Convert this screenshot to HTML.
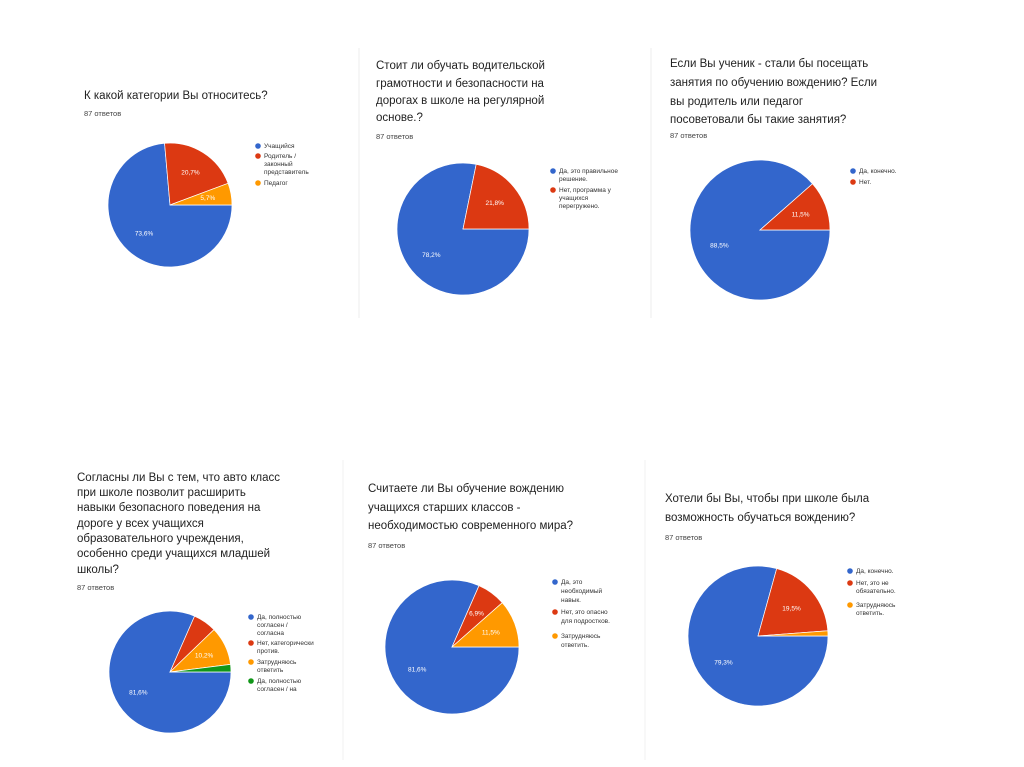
<!DOCTYPE html>
<html><head><meta charset="utf-8"><style>
html,body{margin:0;padding:0;background:#fff;}
svg{display:block;font-family:"Liberation Sans","DejaVu Sans",sans-serif;}
.t{font-size:11.5px;fill:#222;}
.n{font-size:7.5px;fill:#444;}
.l{font-size:6.5px;fill:#333;}
.p{font-size:6.5px;fill:#fff;}
</style></head><body>
<svg id="s" width="1024" height="767" viewBox="0 0 1024 767">
<line x1="359" y1="48" x2="359" y2="318" stroke="#eee"/>
<line x1="651" y1="48" x2="651" y2="318" stroke="#eee"/>
<line x1="343" y1="460" x2="343" y2="760" stroke="#f0f0f0"/>
<line x1="645" y1="460" x2="645" y2="760" stroke="#f0f0f0"/>
<g id="g"></g>
<!-- P1 -->
<text class="t" x="84" y="99">К какой категории Вы относитесь?</text>
<text class="n" x="84" y="116">87 ответов</text>
<circle cx="258" cy="146" r="2.8" fill="#3366cc"/><text class="l" x="264" y="148">Учащийся</text>
<circle cx="258" cy="156" r="2.8" fill="#dc3912"/><text class="l" x="264" y="158">Родитель /</text><text class="l" x="264" y="166">законный</text><text class="l" x="264" y="174">представитель</text>
<circle cx="258" cy="183" r="2.8" fill="#ff9900"/><text class="l" x="264" y="185">Педагог</text>
<!-- P2 -->
<text class="t" x="376" y="69">Стоит ли обучать водительской</text>
<text class="t" x="376" y="87">грамотности и безопасности на</text>
<text class="t" x="376" y="104">дорогах в школе на регулярной</text>
<text class="t" x="376" y="121">основе.?</text>
<text class="n" x="376" y="139">87 ответов</text>
<circle cx="553" cy="171" r="2.8" fill="#3366cc"/><text class="l" x="559" y="173">Да, это правильное</text><text class="l" x="559" y="181">решение.</text>
<circle cx="553" cy="190" r="2.8" fill="#dc3912"/><text class="l" x="559" y="192">Нет, программа у</text><text class="l" x="559" y="200">учащихся</text><text class="l" x="559" y="208">перегружено.</text>
<!-- P3 -->
<text class="t" x="670" y="67">Если Вы ученик - стали бы посещать</text>
<text class="t" x="670" y="86">занятия по обучению вождению? Если</text>
<text class="t" x="670" y="105">вы родитель или педагог</text>
<text class="t" x="670" y="123">посоветовали бы такие занятия?</text>
<text class="n" x="670" y="138">87 ответов</text>
<circle cx="853" cy="171" r="2.8" fill="#3366cc"/><text class="l" x="859" y="173">Да, конечно.</text>
<circle cx="853" cy="182" r="2.8" fill="#dc3912"/><text class="l" x="859" y="184">Нет.</text>
<!-- P4 -->
<text class="t" x="77" y="481">Согласны ли Вы с тем, что авто класс</text>
<text class="t" x="77" y="496">при школе позволит расширить</text>
<text class="t" x="77" y="511">навыки безопасного поведения на</text>
<text class="t" x="77" y="527">дороге у всех учащихся</text>
<text class="t" x="77" y="542">образовательного учреждения,</text>
<text class="t" x="77" y="557">особенно среди учащихся младшей</text>
<text class="t" x="77" y="573">школы?</text>
<text class="n" x="77" y="590">87 ответов</text>
<circle cx="251" cy="617" r="2.8" fill="#3366cc"/><text class="l" x="257" y="619">Да, полностью</text><text class="l" x="257" y="627">согласен /</text><text class="l" x="257" y="635">согласна</text>
<circle cx="251" cy="643" r="2.8" fill="#dc3912"/><text class="l" x="257" y="645">Нет, категорически</text><text class="l" x="257" y="653">против.</text>
<circle cx="251" cy="662" r="2.8" fill="#ff9900"/><text class="l" x="257" y="664">Затрудняюсь</text><text class="l" x="257" y="672">ответить</text>
<circle cx="251" cy="681" r="2.8" fill="#109618"/><text class="l" x="257" y="683">Да, полностью</text><text class="l" x="257" y="691">согласен / на</text>
<!-- P5 -->
<text class="t" x="368" y="492">Считаете ли Вы обучение вождению</text>
<text class="t" x="368" y="511">учащихся старших классов -</text>
<text class="t" x="368" y="529">необходимостью современного мира?</text>
<text class="n" x="368" y="548">87 ответов</text>
<circle cx="555" cy="582" r="2.8" fill="#3366cc"/><text class="l" x="561" y="584">Да, это</text><text class="l" x="561" y="593">необходимый</text><text class="l" x="561" y="602">навык.</text>
<circle cx="555" cy="612" r="2.8" fill="#dc3912"/><text class="l" x="561" y="614">Нет, это опасно</text><text class="l" x="561" y="623">для подростков.</text>
<circle cx="555" cy="636" r="2.8" fill="#ff9900"/><text class="l" x="561" y="638">Затрудняюсь</text><text class="l" x="561" y="647">ответить.</text>
<!-- P6 -->
<text class="t" x="665" y="502">Хотели бы Вы, чтобы при школе была</text>
<text class="t" x="665" y="521">возможность обучаться вождению?</text>
<text class="n" x="665" y="540">87 ответов</text>
<circle cx="850" cy="571" r="2.8" fill="#3366cc"/><text class="l" x="856" y="573">Да, конечно.</text>
<circle cx="850" cy="583" r="2.8" fill="#dc3912"/><text class="l" x="856" y="585">Нет, это не</text><text class="l" x="856" y="593">обязательно.</text>
<circle cx="850" cy="605" r="2.8" fill="#ff9900"/><text class="l" x="856" y="607">Затрудняюсь</text><text class="l" x="856" y="615">ответить.</text>
</svg>
<script>
var C=["#3366cc","#dc3912","#ff9900","#109618"];
var pies=[
 [170,205,62,[73.6,20.7,5.7],["73,6%","20,7%","5,7%"]],
 [463,229,66,[78.2,21.8],["78,2%","21,8%"]],
 [760,230,70,[88.5,11.5],["88,5%","11,5%"]],
 [170,672,61,[81.6,6.2,10.2,2.0],["81,6%","","10,2%",""]],
 [452,647,67,[81.6,6.9,11.5],["81,6%","6,9%","11,5%"]],
 [758,636,70,[79.3,19.5,1.2],["79,3%","19,5%",""]]
];
var g=document.getElementById("g"),h="";
pies.forEach(function(p){
 var cx=p[0],cy=p[1],r=p[2],a=0;
 p[3].forEach(function(v,i){
  var a0=a*2*Math.PI/100,a1=(a+v)*2*Math.PI/100;
  var x0=cx+r*Math.cos(a0),y0=cy+r*Math.sin(a0),x1=cx+r*Math.cos(a1),y1=cy+r*Math.sin(a1);
  h+='<path d="M'+cx+' '+cy+'L'+x0+' '+y0+'A'+r+' '+r+' 0 '+(v>50?1:0)+' 1 '+x1+' '+y1+'Z" fill="'+C[i]+'" stroke="#fff" stroke-width="0.7"/>';
  var am=(a0+a1)/2,lr=r*0.62;
  if(p[4][i])h+='<text class="p" text-anchor="middle" x="'+(cx+lr*Math.cos(am))+'" y="'+(cy+lr*Math.sin(am)+2)+'">'+p[4][i]+'</text>';
  a+=v;
 });
});
g.innerHTML=h;
</script>
</body></html>
